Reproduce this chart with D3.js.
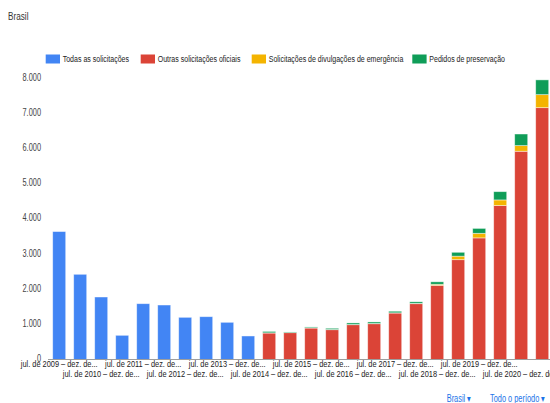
<!DOCTYPE html>
<html>
<head>
<meta charset="utf-8">
<script src="https://cdn.jsdelivr.net/npm/d3@7"></script>
<style>
  body { margin: 0; background: #fff; }
  svg { display: block; font-family: Arial, "Liberation Sans", sans-serif; }
</style>
</head>
<body>
<div id="chart"></div>
<script>
// Declare constants
const FRAME_WIDTH = 550;
const FRAME_HEIGHT = 403;
const SQUEEZE = 0.74; // the screenshot text looks squeezed sideways

// half-year periods
const periods = [
  "jul. de 2009 – dez. de 2009", "jan. de 2010 – jun. de 2010",
  "jul. de 2010 – dez. de 2010", "jan. de 2011 – jun. de 2011",
  "jul. de 2011 – dez. de 2011", "jan. de 2012 – jun. de 2012",
  "jul. de 2012 – dez. de 2012", "jan. de 2013 – jun. de 2013",
  "jul. de 2013 – dez. de 2013", "jan. de 2014 – jun. de 2014",
  "jul. de 2014 – dez. de 2014", "jan. de 2015 – jun. de 2015",
  "jul. de 2015 – dez. de 2015", "jan. de 2016 – jun. de 2016",
  "jul. de 2016 – dez. de 2016", "jan. de 2017 – jun. de 2017",
  "jul. de 2017 – dez. de 2017", "jan. de 2018 – jun. de 2018",
  "jul. de 2018 – dez. de 2018", "jan. de 2019 – jun. de 2019",
  "jul. de 2019 – dez. de 2019", "jan. de 2020 – jun. de 2020",
  "jul. de 2020 – dez. de 2020", "jan. de 2021 – jun. de 2021"
];

// series values
const todas       = [3640, 2424, 1778, 688, 1588, 1550, 1200, 1218, 1058, 669, 0, 0, 0, 0, 0, 0, 0, 0, 0, 0, 0, 0, 0, 0];
const outras      = [0, 0, 0, 0, 0, 0, 0, 0, 0, 0, 754, 763, 896, 848, 990, 1018, 1323, 1588, 2110, 2840, 3460, 4380, 5925, 7165];
const emergencia  = [0, 0, 0, 0, 0, 0, 0, 0, 0, 0, 5, 3, 5, 5, 5, 5, 5, 8, 30, 100, 130, 160, 160, 370];
const preservacao = [0, 0, 0, 0, 0, 0, 0, 0, 0, 0, 40, 17, 25, 35, 45, 45, 45, 45, 70, 110, 140, 235, 330, 420];

const seriesNames = ["Todas as solicitações", "Outras solicitações oficiais",
                     "Solicitações de divulgações de emergência", "Pedidos de preservação"];
const seriesColors = ["#4285f4", "#db4437", "#f4b400", "#0f9d58"];
const yTicks = [0, 1000, 2000, 3000, 4000, 5000, 6000, 7000, 8000];

// table for d3.stack
const keys = ["todas", "outras", "emergencia", "preservacao"];
const rows = periods.map((p, i) => ({
  period: p, todas: todas[i], outras: outras[i],
  emergencia: emergencia[i], preservacao: preservacao[i]
}));

const svg = d3.select("#chart")
  .append("svg")
    .attr("width", FRAME_WIDTH)
    .attr("height", FRAME_HEIGHT);

// scales
const x = d3.scaleBand()
  .domain(periods)
  .range([48.7, 552.7])
  .paddingInner(0.38)
  .paddingOuter(0.19);

const y = d3.scaleLinear()
  .domain([0, 8000])
  .range([359.5, 78.3]);

const color = d3.scaleOrdinal().domain(keys).range(seriesColors);

// top left label
svg.append("text")
  .attr("transform", "translate(8,20) scale(0.78,1)")
  .attr("font-size", 10.5)
  .attr("fill", "#333")
  .text("Brasil");

// legend
const legendX = [45.7, 140.7, 251.7, 412.3];
const legend = svg.append("g").attr("class", "legend");
seriesNames.forEach((name, i) => {
  legend.append("rect")
    .attr("x", legendX[i]).attr("y", 54.5)
    .attr("width", 14.3).attr("height", 9)
    .attr("fill", seriesColors[i]);
  legend.append("text")
    .attr("transform", `translate(${legendX[i] + 17},62.3) scale(${SQUEEZE},1)`)
    .attr("font-size", 9.5)
    .attr("fill", "#222")
    .text(name);
});

// stacked bars
const stacked = d3.stack().keys(keys)(rows);

svg.append("g")
  .selectAll("g")
  .data(stacked)
  .join("g")
    .attr("fill", d => color(d.key))
  .selectAll("rect")
  .data(d => d.filter(s => s[1] - s[0] > 0))
  .join("rect")
    .attr("x", d => x(d.data.period))
    .attr("y", d => y(d[1]))
    .attr("width", x.bandwidth())
    .attr("height", d => y(d[0]) - y(d[1]))
    .attr("stroke", "#fff")
    .attr("stroke-opacity", 0.55)
    .attr("stroke-width", 0.8);

// y axis
const fmt = d3.formatLocale({decimal: ",", thousands: ".", grouping: [3], currency: ["R$", ""]}).format(",d");
const yAxis = svg.append("g")
  .attr("transform", "translate(41,0)")
  .call(d3.axisLeft(y).tickValues(yTicks).tickFormat(fmt).tickSize(0).tickPadding(0));
yAxis.select(".domain").remove();
yAxis.selectAll("text")
  .attr("font-size", 10)
  .attr("font-family", "Arial, 'Liberation Sans', sans-serif")
  .attr("fill", "#444")
  .attr("dy", "0.2em")
  .attr("transform", `scale(${SQUEEZE},1)`);

// x axis baseline
svg.append("line")
  .attr("x1", 48).attr("x2", FRAME_WIDTH)
  .attr("y1", y(0)).attr("y2", y(0))
  .attr("stroke", "#9e9e9e").attr("stroke-width", 1);

// x axis labels, every second period, staggered on two rows
const shown = periods.filter((p, i) => i % 2 === 0);
const xAxis = svg.append("g")
  .attr("transform", `translate(0,${y(0)})`)
  .call(d3.axisBottom(x).tickValues(shown).tickSize(0).tickPadding(0)
    .tickFormat(d => d.slice(0, d.lastIndexOf(" ")) + "..."));
xAxis.select(".domain").remove();
xAxis.selectAll("text")
  .attr("font-size", 9.5)
  .attr("font-family", "Arial, 'Liberation Sans', sans-serif")
  .attr("fill", "#222")
  .attr("dy", null)
  .attr("y", (d, i) => i % 2 === 0 ? 7.5 : 18)
  .attr("transform", `scale(${SQUEEZE + 0.04},1)`);

// bottom links
svg.append("text")
  .attr("transform", `translate(446.7,402) scale(${SQUEEZE},1)`)
  .attr("font-size", 10)
  .attr("fill", "#1a73e8")
  .text("Brasil  ▾");
svg.append("text")
  .attr("transform", `translate(490,402) scale(${SQUEEZE},1)`)
  .attr("font-size", 10)
  .attr("fill", "#1a73e8")
  .text("Todo o período  ▾");
</script>
</body>
</html>
